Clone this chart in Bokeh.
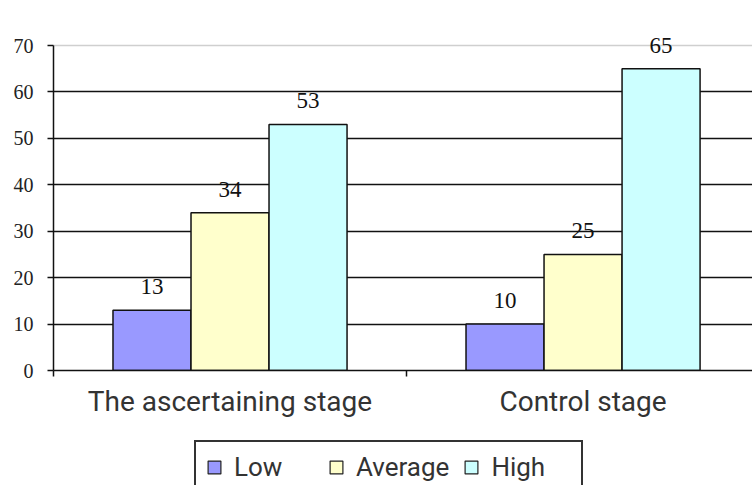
from bokeh.plotting import figure
from bokeh.layouts import column
from bokeh.models import (ColumnDataSource, Range1d, FixedTicker, Grid, Legend, LegendItem)
from bokeh.core.properties import value
from bokeh.embed import file_html
from bokeh.resources import INLINE

# ---- data ----
categories = ["The ascertaining stage", "Control stage"]
series_names = ["Low", "Average", "High"]
low = [13, 10]
average = [34, 25]
high = [53, 65]
y_ticks = [0, 10, 20, 30, 40, 50, 60, 70]

colors = ["#9999ff", "#ffffcc", "#ccffff"]
series_values = [low, average, high]

W = 752
H_MAIN, H_LEG = 435, 50
FRAME_TOP, FRAME_BOTTOM, AXIS_TOP = 20, 370, 45
y_end = y_ticks[-1] * (FRAME_BOTTOM - FRAME_TOP) / (FRAME_BOTTOM - AXIS_TOP)

p = figure(width=W, height=H_MAIN, output_backend="svg", toolbar_location=None,
           x_range=Range1d(0, 1.98), y_range=Range1d(0, y_end),
           min_border_left=53, min_border_right=0, min_border_top=FRAME_TOP,
           min_border_bottom=H_MAIN - FRAME_BOTTOM, outline_line_color=None,
           background_fill_color="white", border_fill_color="white")

bar_w = 0.221
offsets = [-bar_w, 0.0, bar_w]
for name, vals, col, off in zip(series_names, series_values, colors, offsets):
    src = ColumnDataSource(dict(x=[i + 0.5 + off for i in range(len(categories))],
                                top=vals, lab=[str(v) for v in vals]))
    p.vbar(x="x", top="top", width=bar_w, bottom=0, source=src,
           fill_color=col, line_color="#111111", line_width=1.5)
    p.text(x="x", y="top", text="lab", source=src, text_align="center",
           text_baseline="bottom", y_offset=-16,
           text_font=value("Liberation Serif"), text_font_size="23px",
           text_color="#111111")

# grids
p.xgrid.visible = False
p.ygrid.ticker = FixedTicker(ticks=y_ticks[1:-1])
p.ygrid.grid_line_color = "#111111"
p.ygrid.grid_line_width = 1.5
top_grid = Grid(dimension=1, ticker=FixedTicker(ticks=[y_ticks[-1]]),
                grid_line_color="#cfcfcf", grid_line_width=1.5)
p.add_layout(top_grid)

# y axis
p.yaxis.ticker = FixedTicker(ticks=y_ticks)
p.yaxis.bounds = (y_ticks[0], y_ticks[-1])
p.yaxis.axis_line_color = "#111111"
p.yaxis.axis_line_width = 1.5
p.yaxis.major_tick_line_color = "#111111"
p.yaxis.major_tick_line_width = 1.5
p.yaxis.major_tick_out = 6
p.yaxis.major_tick_in = 0
p.yaxis.minor_tick_line_color = None
p.yaxis.major_label_standoff = 14
p.yaxis.major_label_text_font = "Liberation Serif"
p.yaxis.major_label_text_font_size = "20px"
p.yaxis.major_label_text_color = "#222222"

# x axis
p.xaxis.ticker = FixedTicker(ticks=[i + 0.5 for i in range(len(categories))],
                             minor_ticks=[float(i) for i in range(len(categories))])
p.xaxis.major_label_overrides = {i + 0.5: c for i, c in enumerate(categories)}
p.xaxis.axis_line_color = "#111111"
p.xaxis.axis_line_width = 1.5
p.xaxis.major_tick_line_color = None
p.xaxis.minor_tick_line_color = "#111111"
p.xaxis.minor_tick_line_width = 1.5
p.xaxis.minor_tick_out = 6
p.xaxis.minor_tick_in = 0
p.xaxis.major_label_standoff = 8
p.xaxis.major_label_text_font = "Roboto"
p.xaxis.major_label_text_font_size = "28px"
p.xaxis.major_label_text_color = "#333333"

# legend strip (separate figure beneath the chart; swatch renderers are hidden)
lg = figure(width=W, height=H_LEG, output_backend="svg", toolbar_location=None,
            x_range=Range1d(0, 1), y_range=Range1d(0, 1),
            x_axis_location=None, y_axis_location=None,
            min_border=0, outline_line_color=None,
            background_fill_color="white", border_fill_color="white")
lg.xgrid.visible = False
lg.ygrid.visible = False
swatches = []
for col in colors:
    src = ColumnDataSource(dict(x=[0.5], top=[1.0]))
    swatches.append(lg.vbar(x="x", top="top", width=0.1, bottom=0, source=src,
                            fill_color=col, line_color="#222222", line_width=1.2,
                            visible=False))
items = [LegendItem(label=n, renderers=[r]) for n, r in zip(series_names, swatches)]
legend = Legend(items=items, orientation="horizontal", location=(141, -9),
                border_line_color="#333333", border_line_width=2,
                border_line_alpha=1.0,
                background_fill_color="white", background_fill_alpha=1.0,
                inactive_fill_alpha=0.0,
                padding=10, spacing=14, margin=0,
                glyph_width=16, glyph_height=16, label_standoff=12,
                label_width=80, label_height=28,
                label_text_font="Roboto", label_text_font_size="26px",
                label_text_color="#333333")
lg.add_layout(legend, "center")

layout = column(p, lg, spacing=0)
open("out.html", "w").write(file_html(layout, INLINE))
